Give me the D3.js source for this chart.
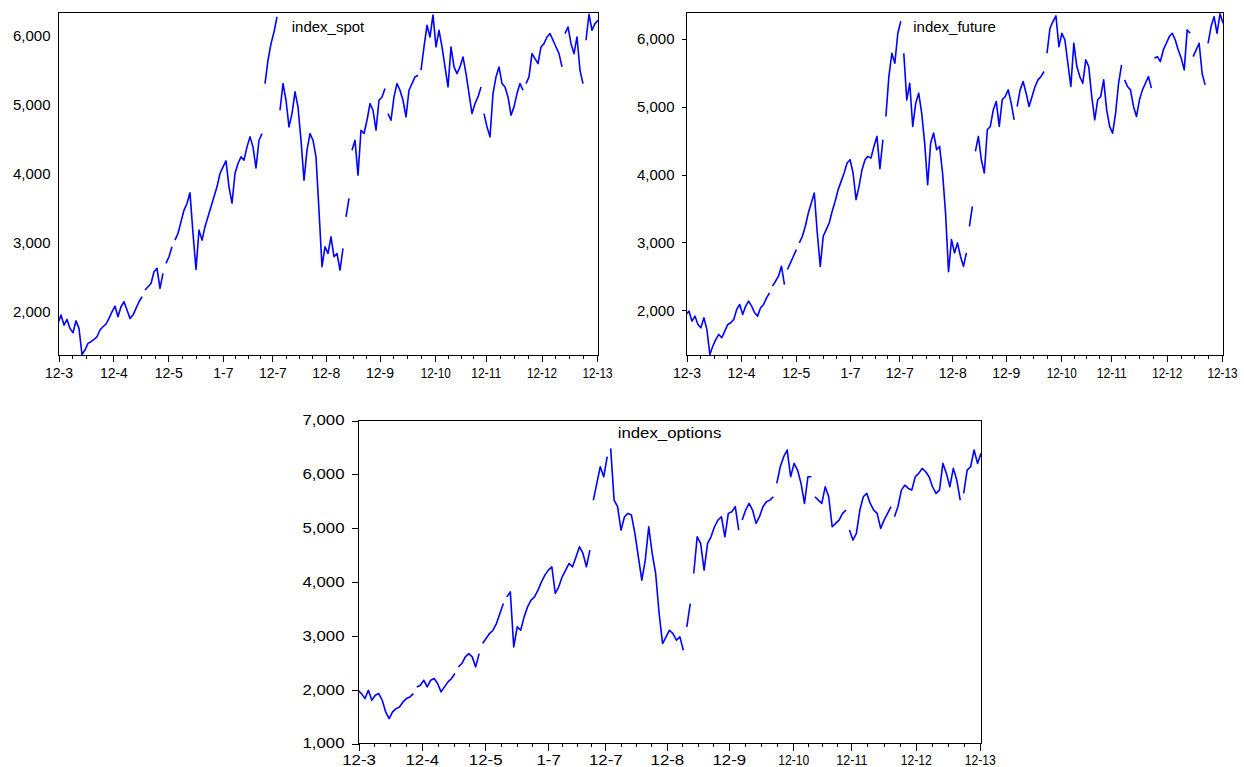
<!DOCTYPE html>
<html>
<head>
<meta charset="utf-8">
<script src="https://cdn.jsdelivr.net/npm/d3@7"></script>
<style>
  html, body { margin: 0; padding: 0; background: #fff; }
  svg text { font-family: "Liberation Sans", Arial, sans-serif; fill: #000; }
</style>
</head>
<body>
<svg id="chart" width="1244" height="767"></svg>
<script>
// Date labels on the shared observation axis and where they fall (in steps)
const tickLabels = ["12-3", "12-4", "12-5", "1-7", "12-7", "12-8", "12-9", "12-10", "12-11", "12-12", "12-13"];
const tickSteps = [0, 18.3, 36.6, 54.8, 71.3, 89.1, 107, 125.6, 142.4, 161, 179.5];

// Index levels sampled at even steps
const spotValues = [
  1820, 1937, 1792, 1874, 1744, 1681, 1855, 1744, 1365, 1430,
  1527, 1551, 1585, 1623, 1720, 1768, 1807, 1889, 1985, 2067,
  1913, 2058, 2130, 2010, 1889, 1937, 2034, 2130, 2203, 2300,
  2348, 2396, 2565, 2614, 2324, 2541, 2686, 2783, 2928, 3024,
  3121, 3290, 3459, 3556, 3710, 3121, 2600, 3169, 3024, 3217,
  3362, 3507, 3652, 3797, 3990, 4087, 4174, 3797, 3560, 3990,
  4135, 4232, 4184, 4377, 4522, 4377, 4070, 4473, 4570, 5295,
  5633, 5874, 6043, 6261, 4908, 5295, 5053, 4667, 4860, 5174,
  4957, 4473, 3894, 4329, 4570, 4473, 4232, 3450, 2638, 2928,
  2831, 3072, 2783, 2831, 2589, 2903, 3362, 3628, 4329, 4473,
  3966, 4618, 4570, 4763, 5005, 4908, 4618, 5053, 5101, 5222,
  4860, 4763, 5101, 5295, 5198, 5053, 4812, 5198, 5295, 5391,
  5415, 5488, 5826, 6140, 5971, 6290, 5826, 6068, 5826, 5536,
  5246, 5826, 5536, 5440, 5536, 5681, 5440, 5150, 4860, 5005,
  5101, 5246, 4860, 4667, 4522, 5150, 5391, 5536, 5295, 5246,
  5101, 4836, 4957, 5150, 5295, 5198, 5295, 5391, 5729, 5657,
  5584, 5826, 5874, 5971, 6019, 5923, 5826, 5729, 5536, 6019,
  6116, 5874, 5729, 5971, 5488, 5295, 5923, 6300, 6068, 6164, 6213
];

const futureValues = [
  1931, 1980, 1833, 1907, 1784, 1735, 1882, 1711, 1340, 1466,
  1564, 1637, 1588, 1686, 1784, 1809, 1858, 2005, 2078, 1931,
  2054, 2127, 2054, 1956, 1907, 2029, 2078, 2176, 2250, 2348,
  2421, 2495, 2642, 2372, 2593, 2691, 2789, 2887, 2985, 3083,
  3230, 3426, 3574, 3720, 3132, 2640, 3083, 3181, 3279, 3451,
  3598, 3770, 3892, 4015, 4162, 4211, 4015, 3623, 3819, 4064,
  4211, 4260, 4235, 4407, 4554, 4080, 4505, 4848, 5436, 5779,
  5632, 6074, 6250, 5779, 5093, 5338, 4701, 5044, 5191, 4897,
  4456, 3843, 4456, 4603, 4358, 4407, 4015, 3426, 2560, 3034,
  2838, 2985, 2789, 2640, 2838, 3230, 3525, 4333, 4554, 4211,
  4015, 4652, 4701, 4946, 5069, 4701, 5093, 5142, 5240, 5044,
  4799, 4995, 5240, 5363, 5191, 4995, 5142, 5289, 5387, 5436,
  5510, 5779, 6147, 6245, 6330, 5877, 6074, 5975, 5632, 5289,
  5926, 5583, 5436, 5338, 5681, 5583, 5142, 4799, 5093, 5142,
  5387, 4946, 4701, 4603, 4897, 5338, 5608, 5387, 5289, 5240,
  4995, 4848, 5093, 5240, 5338, 5436, 5265, 5706, 5730, 5657,
  5828, 5926, 6025, 6074, 5975, 5828, 5706, 5534, 6123, 6074,
  5730, 5828, 5926, 5485, 5314, 5926, 6172, 6319, 6074, 6360, 6221
];

const optionValues = [
  1980, 1918, 1825, 1980, 1794, 1887, 1918, 1794, 1577, 1453,
  1577, 1639, 1670, 1763, 1825, 1856, 1918, 2042, 2073, 2166,
  2042, 2166, 2197, 2104, 1949, 2042, 2135, 2197, 2290, 2414,
  2476, 2600, 2661, 2600, 2414, 2661, 2847, 2940, 3033, 3095,
  3219, 3405, 3591, 3715, 3808, 2785, 3157, 3095, 3343, 3529,
  3653, 3715, 3839, 3994, 4118, 4211, 4273, 3777, 3901, 4087,
  4211, 4335, 4273, 4459, 4645, 4521, 4273, 4583, 5512, 5822,
  6132, 5946, 6318, 6473, 5512, 5389, 4955, 5203, 5265, 5234,
  4893, 4459, 4025, 4397, 5017, 4521, 4149, 3405, 2847, 2971,
  3095, 3033, 2909, 2971, 2723, 3157, 3591, 4149, 4831, 4707,
  4211, 4707, 4831, 5017, 5141, 5203, 4831, 5265, 5296, 5389,
  4955, 5141, 5327, 5450, 5327, 5079, 5203, 5389, 5481, 5512,
  5574, 5822, 6132, 6318, 6442, 5946, 6194, 6070, 5822, 5450,
  5946, 5946, 5574, 5512, 5450, 5760, 5574, 5017, 5079, 5141,
  5265, 5327, 4955, 4769, 4893, 5327, 5574, 5636, 5450, 5327,
  5265, 4986, 5141, 5265, 5389, 5203, 5389, 5698, 5791, 5729,
  5698, 5946, 6008, 6101, 6039, 5946, 5760, 5636, 5698, 6194,
  6008, 5760, 6101, 5884, 5512, 5636, 6070, 6132, 6442, 6194, 6380
];

// Steps after which the next observation is missing (line is broken there)
const spotBreaks = [28, 35, 38, 68, 73, 95, 97, 109, 120, 141, 155, 168, 175];
const futureBreaks = [28, 33, 37, 66, 72, 94, 96, 110, 120, 146, 156, 169, 174];
const optionBreaks = [16, 28, 35, 42, 67, 72, 94, 96, 110, 120, 131, 141, 154, 174];

const spotTicks = [2000, 3000, 4000, 5000, 6000];
const futureTicks = [2000, 3000, 4000, 5000, 6000];
const optionTicks = [1000, 2000, 3000, 4000, 5000, 6000, 7000];

// Layout of the three frames
const panels = [
  { title: "index_spot", values: spotValues, breaks: spotBreaks, yTicks: spotTicks,
    box: { left: 58, top: 12, right: 598, bottom: 355 },
    yDomain: [1358, 6333], yTickSize: 0, yPad: 8, yFont: 15, titleFont: 15, titleDy: 20,
    xFont: 14, xTickSize: 6, xPad: 7, stretch: 1, wideLabel: 30 },
  { title: "index_future", values: futureValues, breaks: futureBreaks, yTicks: futureTicks,
    box: { left: 686, top: 12, right: 1223, bottom: 355 },
    yDomain: [1334, 6387], yTickSize: 5, yPad: 7, yFont: 15, titleFont: 15, titleDy: 20,
    xFont: 14, xTickSize: 6, xPad: 7, stretch: 1, wideLabel: 30 },
  { title: "index_options", values: optionValues, breaks: optionBreaks, yTicks: optionTicks,
    box: { left: 358, top: 420, right: 981, bottom: 743 },
    yDomain: [1000, 7000], yTickSize: 7, yPad: 7, yFont: 14, titleFont: 14, titleDy: 18,
    xFont: 14, xTickSize: 7, xPad: 5, stretch: 1.2, wideLabel: 31 }
];

const svg = d3.select("#chart");

// Widen glyphs horizontally by a factor
function widen(sel, k) {
  if (k === 1) return;
  sel.each(function () {
    const w = this.getComputedTextLength();
    this.setAttribute("textLength", w * k);
    this.setAttribute("lengthAdjust", "spacingAndGlyphs");
  });
}

// Split a series into unbroken runs of {i, v}
function runsOf(values, breaks) {
  const runs = [[]];
  values.forEach((v, i) => {
    runs[runs.length - 1].push({ i, v });
    if (breaks.includes(i)) runs.push([]);
  });
  return runs.filter(r => r.length > 0);
}

// Quarter-way minor ticks between consecutive date labels
const minorSteps = [];
for (let i = 0; i < tickSteps.length - 1; i++) {
  const a = tickSteps[i], b = tickSteps[i + 1];
  for (let q = 1; q < 4; q++) minorSteps.push(a + (b - a) * q / 4);
}

panels.forEach(p => {
  const b = p.box;
  const x = d3.scaleLinear().domain([0, p.values.length - 1]).range([b.left, b.right]);
  const y = d3.scaleLinear().domain(p.yDomain).range([b.bottom, b.top]);
  const g = svg.append("g");

  const line = d3.line().x(d => x(d.i)).y(d => y(d.v));

  g.append("defs").append("clipPath").attr("id", "clip-" + p.title)
    .append("rect").attr("x", b.left).attr("y", b.top - 1)
    .attr("width", b.right - b.left + 1).attr("height", b.bottom - b.top + 2);

  g.append("g")
    .attr("clip-path", "url(#clip-" + p.title + ")")
    .selectAll("path")
    .data(runsOf(p.values, p.breaks))
    .join("path")
    .attr("fill", "none")
    .attr("stroke", "#0000ff")
    .attr("stroke-width", 1.6)
    .attr("stroke-linejoin", "round")
    .attr("d", line);

  // frame
  g.append("rect")
    .attr("x", b.left + 0.5).attr("y", b.top + 0.5)
    .attr("width", b.right - b.left).attr("height", b.bottom - b.top)
    .attr("fill", "none").attr("stroke", "#000").attr("stroke-width", 1)
    .attr("shape-rendering", "crispEdges");

  // y axis
  const yAxis = g.append("g")
    .attr("transform", `translate(${b.left + 0.5},0.5)`)
    .call(d3.axisLeft(y).tickValues(p.yTicks).tickFormat(d3.format(","))
      .tickSize(p.yTickSize).tickPadding(p.yPad));
  yAxis.select(".domain").remove();
  yAxis.selectAll("line").attr("stroke", "#000").attr("shape-rendering", "crispEdges");
  yAxis.selectAll("text").attr("font-size", p.yFont).attr("font-family", null).attr("fill", "#000");
  widen(yAxis.selectAll("text"), p.stretch);

  // x axis: minor ticks, then labelled ticks
  const minor = g.append("g")
    .attr("transform", `translate(0.5,${b.bottom + 0.5})`)
    .call(d3.axisBottom(x).tickValues(minorSteps).tickFormat("").tickSize(3));
  minor.select(".domain").remove();
  minor.selectAll("line").attr("stroke", "#000").attr("shape-rendering", "crispEdges");

  const xAxis = g.append("g")
    .attr("transform", `translate(0.5,${b.bottom + 0.5})`)
    .call(d3.axisBottom(x).tickValues(tickSteps)
      .tickFormat((d, i) => tickLabels[i])
      .tickSize(p.xTickSize).tickPadding(p.xPad));
  xAxis.select(".domain").remove();
  xAxis.selectAll("line").attr("stroke", "#000").attr("shape-rendering", "crispEdges");
  const xt = xAxis.selectAll("text").attr("font-size", p.xFont).attr("font-family", null).attr("fill", "#000");
  widen(xt.filter(d => tickLabels[tickSteps.indexOf(d)].length < 5), p.stretch);
  xt.filter(d => tickLabels[tickSteps.indexOf(d)].length >= 5)
    .attr("textLength", p.wideLabel).attr("lengthAdjust", "spacingAndGlyphs");

  // series name inside the frame
  const t = g.append("text")
    .attr("x", (b.left + b.right) / 2)
    .attr("y", b.top + p.titleDy)
    .attr("text-anchor", "middle")
    .attr("font-size", p.titleFont)
    .text(p.title);
  widen(t, p.stretch);
});
</script>
</body>
</html>
